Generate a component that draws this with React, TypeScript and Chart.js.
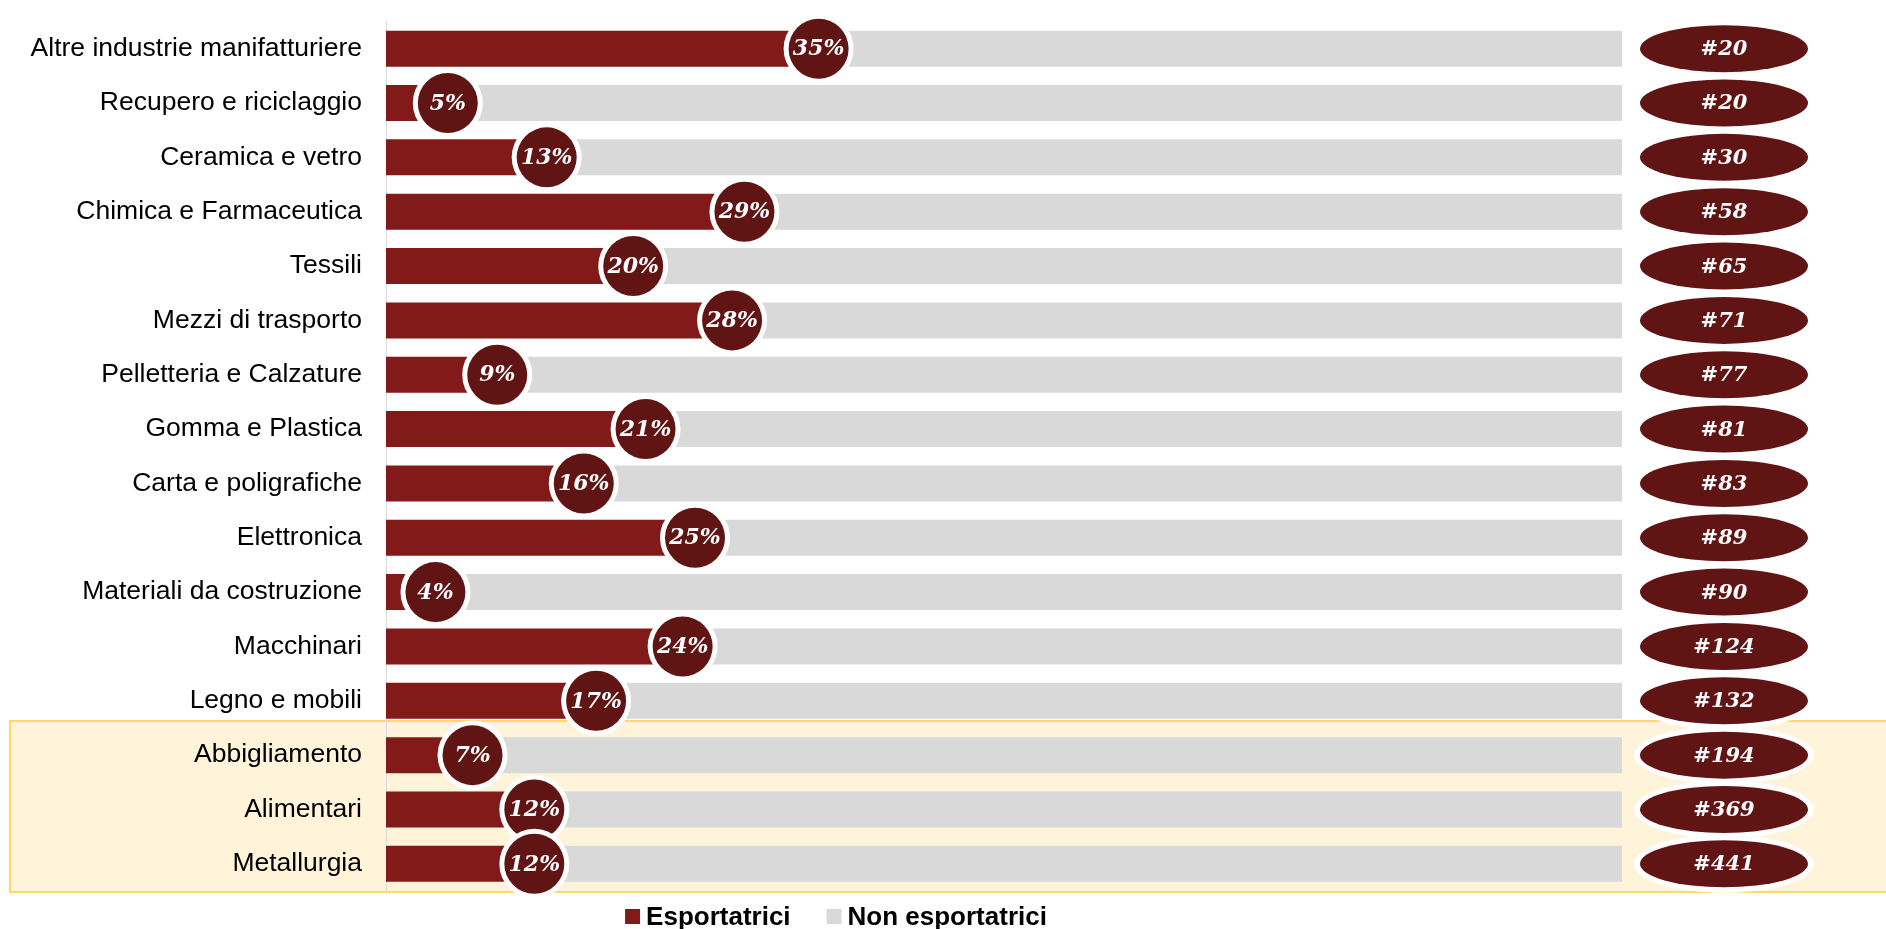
import React, { useEffect, useRef } from "react";
import { Chart, registerables } from "chart.js";

Chart.register(...registerables);

// ---- data ----
const sectors = [
  "Altre industrie manifatturiere",
  "Recupero e riciclaggio",
  "Ceramica e vetro",
  "Chimica e Farmaceutica",
  "Tessili",
  "Mezzi di trasporto",
  "Pelletteria e Calzature",
  "Gomma e Plastica",
  "Carta e poligrafiche",
  "Elettronica",
  "Materiali da costruzione",
  "Macchinari",
  "Legno e mobili",
  "Abbigliamento",
  "Alimentari",
  "Metallurgia",
];
const exporters = [35, 5, 13, 29, 20, 28, 9, 21, 16, 25, 4, 24, 17, 7, 12, 12];
const nonExporters = [65, 95, 87, 71, 80, 72, 91, 79, 84, 75, 96, 76, 83, 93, 88, 88];
const rankings = [20, 20, 30, 58, 65, 71, 77, 81, 83, 89, 90, 124, 132, 194, 369, 441];
const highlightedSectors = ["Abbigliamento", "Alimentari", "Metallurgia"];
const seriesNames = ["Esportatrici", "Non esportatrici"];

// ---- styles ----
const RED = "#821A1A";
const DARK = "#601414";
const GRAY = "#D9D9D9";
const SANS = "'Liberation Sans', Arial, sans-serif";
const SERIF = "'DejaVu Serif', Georgia, serif";

const overlayPlugin = {
  id: "overlay",
  beforeDraw(chart: any) {
    const { ctx, scales } = chart;
    const y = scales.y;
    const idx = highlightedSectors.map((s) => sectors.indexOf(s));
    const first = Math.min(...idx);
    const last = Math.max(...idx);
    const half = (y.getPixelForValue(1) - y.getPixelForValue(0)) / 2;
    const top = y.getPixelForValue(first) - half - 7;
    const bottom = y.getPixelForValue(last) + half + 1;
    ctx.save();
    ctx.fillStyle = "#FFF3DA";
    ctx.fillRect(10, top, chart.width, bottom - top);
    ctx.strokeStyle = "#FFD966";
    ctx.lineWidth = 2;
    ctx.strokeRect(10, top, chart.width + 10, bottom - top);
    ctx.restore();
  },
  afterDatasetsDraw(chart: any) {
    const { ctx, chartArea } = chart;
    const meta = chart.getDatasetMeta(0);
    ctx.save();
    ctx.textAlign = "center";
    ctx.textBaseline = "middle";
    meta.data.forEach((bar: any, i: number) => {
      const cx = bar.x;
      const cy = bar.y;
      // white ring + dark disc
      ctx.beginPath();
      ctx.ellipse(cx, cy, 35, 35, 0, 0, Math.PI * 2);
      ctx.fillStyle = "#FFFFFF";
      ctx.fill();
      ctx.beginPath();
      ctx.ellipse(cx, cy, 30, 30, 0, 0, Math.PI * 2);
      ctx.fillStyle = DARK;
      ctx.fill();
      ctx.fillStyle = "#FFFFFF";
      ctx.font = `italic bold 22px ${SERIF}`;
      ctx.fillText(`${exporters[i]}%`, cx, cy + 1);

      // ranking ellipse on the right
      const ex = chartArea.right + 102;
      ctx.beginPath();
      ctx.ellipse(ex, cy, 90, 29, 0, 0, Math.PI * 2);
      ctx.fillStyle = "#FFFFFF";
      ctx.fill();
      ctx.beginPath();
      ctx.ellipse(ex, cy, 84, 23.5, 0, 0, Math.PI * 2);
      ctx.fillStyle = DARK;
      ctx.fill();
      ctx.fillStyle = "#FFFFFF";
      ctx.font = `italic bold 21px ${SERIF}`;
      ctx.fillText(`#${rankings[i]}`, ex, cy + 1);
    });
    ctx.restore();
  },
  afterDraw(chart: any) {
    const { ctx, chartArea } = chart;
    const colors = [RED, GRAY];
    ctx.save();
    ctx.font = `bold 26px ${SANS}`;
    ctx.textBaseline = "alphabetic";
    ctx.textAlign = "left";
    const box = 15;
    const gapText = 6;
    const gapItem = 36;
    const widths = seriesNames.map((n) => ctx.measureText(n).width);
    const total = widths.reduce((a, w) => a + box + gapText + w, 0) + gapItem;
    let x = chartArea.left + 450 - total / 2;
    const baseline = 925;
    seriesNames.forEach((n, i) => {
      ctx.fillStyle = colors[i];
      ctx.fillRect(x, baseline - 16, box, box);
      x += box + gapText;
      ctx.fillStyle = "#000000";
      ctx.fillText(n, x, baseline);
      x += widths[i] + gapItem;
    });
    ctx.restore();
  },
};

export default function App() {
  const canvasRef = useRef<HTMLCanvasElement | null>(null);

  useEffect(() => {
    document.body.style.margin = "0";
    const canvas = canvasRef.current;
    if (!canvas) return;
    const chart = new Chart(canvas, {
      type: "bar",
      data: {
        labels: sectors,
        datasets: [
          {
            label: seriesNames[0],
            data: exporters,
            backgroundColor: RED,
            borderWidth: 0,
            barPercentage: 0.663,
            categoryPercentage: 1,
          },
          {
            label: seriesNames[1],
            data: nonExporters,
            backgroundColor: GRAY,
            borderWidth: 0,
            barPercentage: 0.663,
            categoryPercentage: 1,
          },
        ],
      },
      options: {
        indexAxis: "y",
        responsive: false,
        animation: false,
        layout: { padding: { top: 21.5, bottom: 38, left: 0, right: 264 } },
        plugins: {
          legend: { display: false },
          tooltip: { enabled: false },
          title: { display: false },
        },
        scales: {
          x: {
            display: false,
            stacked: true,
            min: 0,
            max: 100,
          },
          y: {
            stacked: true,
            grid: { display: false, drawTicks: false },
            border: { display: true, color: GRAY, width: 1 },
            ticks: {
              color: "#000000",
              padding: 24,
              font: { family: SANS, size: 26.5 },
            },
            afterFit(scale: any) {
              scale.width = 386;
              scale.paddingTop = 0;
              scale.paddingBottom = 0;
            },
          },
        },
      },
      plugins: [overlayPlugin],
    });
    return () => chart.destroy();
  }, []);

  return (
    <div style={{ width: 1886, height: 929 }}>
      <canvas ref={canvasRef} width={1886} height={929} style={{ display: "block" }} />
    </div>
  );
}
